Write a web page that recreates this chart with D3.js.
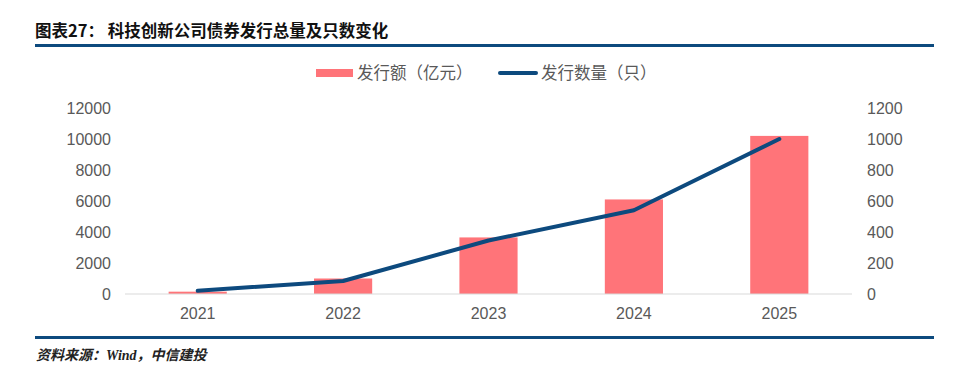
<!DOCTYPE html>
<html>
<head>
<meta charset="utf-8">
<script src="https://cdn.jsdelivr.net/npm/d3@7"></script>
<style>
  body { margin: 0; background: #fff; }
  svg { display: block; }
</style>
</head>
<body>
<svg id="chart" width="960" height="375"></svg>
<script>
// data
var years = ["2021", "2022", "2023", "2024", "2025"];
var amount = [150, 1000, 3650, 6100, 10200];   // 发行额（亿元）
var count = [21, 84, 345, 540, 1000];          // 发行数量（只）
var leftTicks = [0, 2000, 4000, 6000, 8000, 10000, 12000];
var rightTicks = [0, 200, 400, 600, 800, 1000, 1200];

var svg = d3.select("#chart");
var cjk = "'Noto Sans CJK SC', sans-serif";
var num = "'Liberation Sans', Arial, sans-serif";
var blue = "#0d4a7e", red = "#ff7479", grey = "#595959";

// title + rules
svg.append("text")
  .attr("x", 35).attr("y", 37)
  .style("font-family", cjk).style("font-size", "16.5px").style("font-weight", "bold")
  .attr("fill", "#111")
  .text("图表27：  科技创新公司债券发行总量及只数变化");
svg.append("rect").attr("x", 35).attr("y", 44).attr("width", 899).attr("height", 3).attr("fill", blue);
svg.append("rect").attr("x", 35).attr("y", 336).attr("width", 899).attr("height", 3).attr("fill", blue);
svg.append("text")
  .attr("x", 36).attr("y", 360)
  .style("font-family", "'Liberation Serif', " + cjk).style("font-size", "14px")
  .style("font-style", "italic").style("font-weight", "bold")
  .attr("fill", "#222")
  .text("资料来源：Wind，中信建投");

// scales
var x = d3.scaleBand().domain(years).range([125, 852]).paddingInner(0.6).paddingOuter(0.3);
var xc = function(d) { return x(d) + x.bandwidth() / 2; };
var yL = d3.scaleLinear().domain([0, 12000]).range([294, 108]);
var yR = d3.scaleLinear().domain([0, 1200]).range([294, 108]);

// bars
svg.append("g").selectAll("rect")
  .data(years)
  .join("rect")
  .attr("x", function(d) { return x(d); })
  .attr("width", x.bandwidth())
  .attr("y", function(d, i) { return yL(amount[i]); })
  .attr("height", function(d, i) { return yL(0) - yL(amount[i]); })
  .attr("fill", red);

// baseline
svg.append("line")
  .attr("x1", 125).attr("x2", 852).attr("y1", yL(0)).attr("y2", yL(0))
  .attr("stroke", "#d9d9d9").attr("stroke-width", 1);

// line
var line = d3.line()
  .x(function(d, i) { return xc(years[i]); })
  .y(function(d) { return yR(d); });
svg.append("path")
  .datum(count)
  .attr("d", line)
  .attr("fill", "none")
  .attr("stroke", blue)
  .attr("stroke-width", 4)
  .attr("stroke-linecap", "round")
  .attr("stroke-linejoin", "round");

// axes
var axL = svg.append("g").attr("transform", "translate(125,0)")
  .call(d3.axisLeft(yL).tickValues(leftTicks).tickSize(0).tickPadding(14).tickFormat(d3.format("d")));
var axR = svg.append("g").attr("transform", "translate(852,0)")
  .call(d3.axisRight(yR).tickValues(rightTicks).tickSize(0).tickPadding(15).tickFormat(d3.format("d")));
var axB = svg.append("g").attr("transform", "translate(0,294)")
  .call(d3.axisBottom(x).tickSize(0).tickPadding(14));
[axL, axR, axB].forEach(function(a) {
  a.select(".domain").remove();
  a.selectAll("text")
    .style("font-family", num).style("font-size", "16px").attr("fill", grey);
});

// legend
var lg = svg.append("g");
lg.append("rect").attr("x", 316).attr("y", 69).attr("width", 37).attr("height", 8).attr("fill", red);
lg.append("text").attr("x", 357).attr("y", 79)
  .style("font-family", cjk).style("font-size", "16.5px").attr("fill", grey)
  .text("发行额（亿元）");
lg.append("line").attr("x1", 500).attr("x2", 536).attr("y1", 73).attr("y2", 73)
  .attr("stroke", blue).attr("stroke-width", 4).attr("stroke-linecap", "round");
lg.append("text").attr("x", 541).attr("y", 79)
  .style("font-family", cjk).style("font-size", "16.5px").attr("fill", grey)
  .text("发行数量（只）");
</script>
</body>
</html>
